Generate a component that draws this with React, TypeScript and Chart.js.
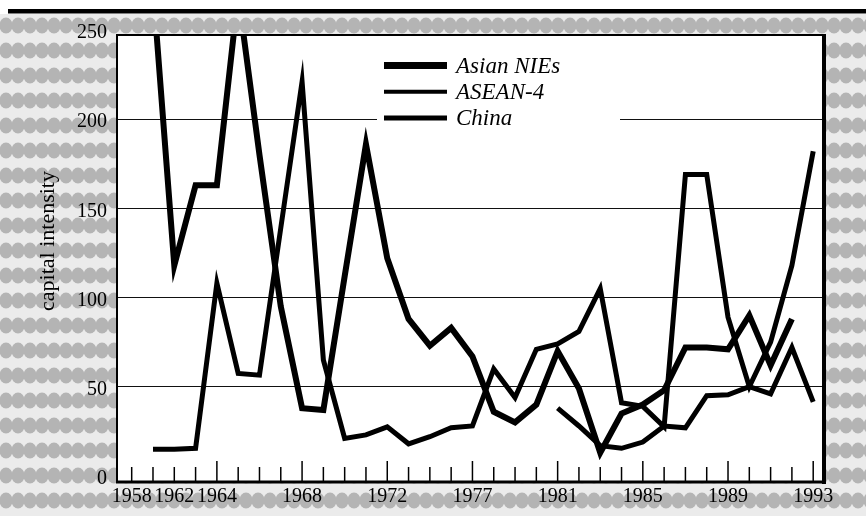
import React, { useEffect, useRef } from "react";
import { Chart, registerables } from "chart.js";

Chart.register(...registerables);

// ---- data ----
const xTickLabels = [
  "1958", "", "1962", "", "1964", "", "", "", "1968", "", "", "", "1972", "", "", "", "1977",
  "", "", "", "1981", "", "", "", "1985", "", "", "", "1989", "", "", "", "1993",
];

const asianNIEs = [
  null, 274, 118, 163, 163, 270, 180, 95, 38, 37, 112, 186, 122, 88, 73, 83, 67,
  36, 30, 40, 70, 49, 13, 35, 40, 48, 72, 72, 71, 90, 62, 88, null,
];

const asean4 = [
  null, 15, 15, 15.5, 108, 57.5, 56.5, 139, 221, 65, 21, 23, 27.5, 18, 22, 27, 28,
  60, 44, 71, 74, 81, 105, 41, 39, 27.5, 169, 169, 89, 50, 75, 118, 182,
];

const china = [
  null, null, null, null, null, null, null, null, null, null, null, null, null, null, null, null, null,
  null, null, null, 38, 28, 17, 15.5, 19, 28, 27, 45, 45.5, 50, 46, 72, 41.5,
];

const seriesNames = ["Asian NIEs", "ASEAN-4", "China"];
const yTickValues = [0, 50, 100, 150, 200, 250];
const yTitle = "capital intensity";

const SERIF = "'Liberation Serif', 'Times New Roman', serif";

const toPoints = (arr: (number | null)[]) => arr.map((y, i) => ({ x: i, y }));

const backgroundPlugin = {
  id: "hatchBackground",
  beforeDraw(chart: any) {
    const { ctx, width, height, chartArea: a } = chart;
    ctx.save();
    ctx.fillStyle = "#ffffff";
    ctx.fillRect(0, 0, width, height);
    const tile = document.createElement("canvas");
    tile.width = 12;
    tile.height = 25;
    const t = tile.getContext("2d")!;
    t.fillStyle = "#ebebeb";
    t.fillRect(0, 0, 12, 25);
    t.fillStyle = "#b4b4b4";
    t.beginPath();
    t.ellipse(6, 12.5, 6.5, 8, 0, 0, Math.PI * 2);
    t.fill();
    const pat = ctx.createPattern(tile, "repeat");
    ctx.translate(0, 13);
    ctx.fillStyle = pat;
    ctx.fillRect(0, 1, width, height);
    ctx.restore();
    ctx.save();
    ctx.fillStyle = "#ffffff";
    ctx.fillRect(0, 0, width, 9);
    ctx.fillStyle = "#000000";
    ctx.fillRect(8, 9, width - 8, 4.5);
    ctx.fillStyle = "#ffffff";
    ctx.fillRect(a.left, a.top, a.right - a.left, a.bottom - a.top);
    ctx.restore();
  },
};

const framePlugin = {
  id: "frameLegend",
  afterDatasetsDraw(chart: any) {
    const { ctx, chartArea: a } = chart;
    const xs = chart.scales.x;
    ctx.save();
    // legend box
    ctx.fillStyle = "#ffffff";
    ctx.fillRect(377, 50, 243, 82);
    const widths = [7, 4, 5];
    chart.data.datasets.forEach((ds: any, i: number) => {
      const y = 65.5 + i * 26.3;
      ctx.strokeStyle = "#000";
      ctx.lineWidth = widths[i];
      ctx.beginPath();
      ctx.moveTo(384, y);
      ctx.lineTo(447, y);
      ctx.stroke();
      ctx.fillStyle = "#000";
      ctx.font = `italic 23px ${SERIF}`;
      ctx.textAlign = "left";
      ctx.textBaseline = "middle";
      ctx.fillText(ds.label, 456, y + 1);
    });
    // frame
    ctx.strokeStyle = "#000";
    ctx.lineWidth = 2;
    ctx.beginPath();
    ctx.moveTo(a.left, a.top);
    ctx.lineTo(a.right, a.top);
    ctx.stroke();
    ctx.beginPath();
    ctx.moveTo(a.left, a.top - 1);
    ctx.lineTo(a.left, a.bottom + 1);
    ctx.stroke();
    ctx.lineWidth = 4;
    ctx.beginPath();
    ctx.moveTo(a.right + 1, a.top - 1);
    ctx.lineTo(a.right + 1, a.bottom + 2);
    ctx.stroke();
    ctx.lineWidth = 3;
    ctx.beginPath();
    ctx.moveTo(a.left - 1, a.bottom);
    ctx.lineTo(a.right + 3, a.bottom);
    ctx.stroke();
    // inner tick marks
    ctx.lineWidth = 1.5;
    xTickLabels.forEach((_, i) => {
      const x = xs.getPixelForValue(i);
      const h = i > 0 && i % 4 === 0 ? 21 : 15;
      ctx.beginPath();
      ctx.moveTo(x, a.bottom);
      ctx.lineTo(x, a.bottom - h);
      ctx.stroke();
    });
    // y title
    ctx.translate(48, 241);
    ctx.rotate(-Math.PI / 2);
    ctx.font = `22px ${SERIF}`;
    ctx.textAlign = "center";
    ctx.textBaseline = "middle";
    ctx.fillStyle = "#000";
    ctx.fillText(yTitle, 0, 0);
    ctx.restore();
  },
};

export default function App() {
  const ref = useRef<HTMLCanvasElement | null>(null);

  useEffect(() => {
    document.body.style.margin = "0";
    Chart.defaults.font.family = SERIF;
    const canvas = ref.current!;
    const chart = new Chart(canvas, {
      type: "line",
      data: {
        datasets: [
          { label: seriesNames[0], data: toPoints(asianNIEs), borderColor: "#000", borderWidth: 6 },
          { label: seriesNames[1], data: toPoints(asean4), borderColor: "#000", borderWidth: 5 },
          { label: seriesNames[2], data: toPoints(china), borderColor: "#000", borderWidth: 5 },
        ].map((d) => ({ ...d, clip: 0, pointRadius: 0, tension: 0, spanGaps: false, fill: false })) as any,
      },
      options: {
        animation: false,
        responsive: false,
        devicePixelRatio: 1,
        layout: { padding: { left: 0, right: 43, top: 35, bottom: 0 } },
        elements: {
          line: { borderJoinStyle: "miter", borderCapStyle: "butt" },
          point: { radius: 0 },
        },
        plugins: { legend: { display: false }, tooltip: { enabled: false } },
        scales: {
          x: {
            type: "linear",
            min: -0.69,
            max: 32.46,
            afterBuildTicks: (s: any) => {
              s.ticks = xTickLabels.map((_, i) => ({ value: i }));
            },
            afterFit: (s: any) => {
              s.height = 34;
            },
            grid: { display: false, drawTicks: false },
            border: { display: false },
            ticks: {
              autoSkip: false,
              maxRotation: 0,
              minRotation: 0,
              padding: 3,
              color: "#000",
              font: { size: 20, family: SERIF },
              callback: (v: any) => xTickLabels[Math.round(Number(v))] ?? "",
            },
          },
          y: {
            type: "linear",
            min: -3.4,
            max: 247.2,
            afterBuildTicks: (s: any) => {
              s.ticks = yTickValues.map((v) => ({ value: v }));
            },
            afterFit: (s: any) => {
              s.width = 117;
            },
            grid: {
              drawTicks: false,
              lineWidth: 1,
              color: (c: any) =>
                c.tick && c.tick.value > 0 && c.tick.value < 250 ? "#111" : "rgba(0,0,0,0)",
            },
            border: { display: false },
            ticks: {
              padding: 10,
              labelOffset: 3,
              color: "#000",
              font: { size: 20, family: SERIF },
              callback: (v: any) => String(v),
            },
          },
        },
      },
      plugins: [backgroundPlugin, framePlugin],
    });
    return () => chart.destroy();
  }, []);

  return (
    <div style={{ width: 866, height: 516 }}>
      <canvas ref={ref} width={866} height={516} style={{ display: "block" }} />
    </div>
  );
}
